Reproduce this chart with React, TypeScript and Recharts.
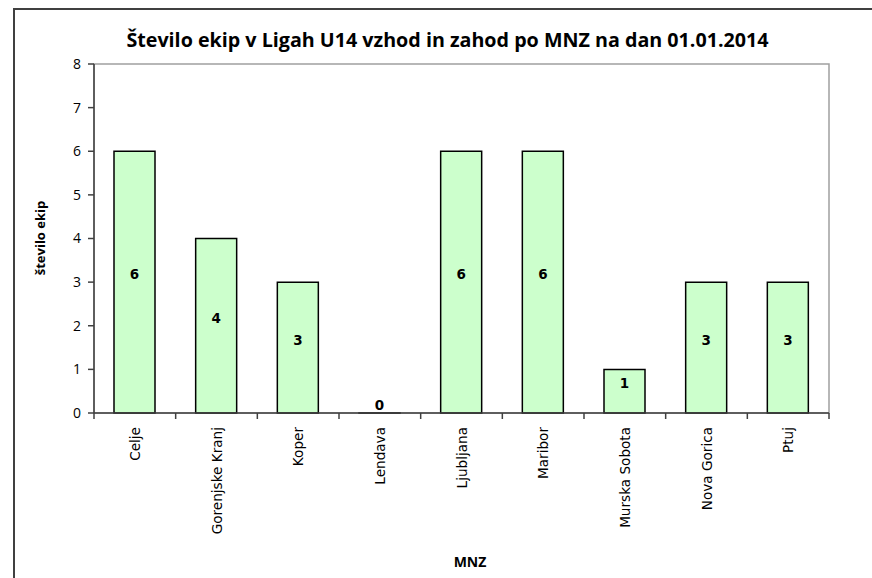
import React from 'react';
import { BarChart, Bar, XAxis, YAxis, ReferenceArea } from 'recharts';

const categories = ['Celje', 'Gorenjske Kranj', 'Koper', 'Lendava', 'Ljubljana', 'Maribor', 'Murska Sobota', 'Nova Gorica', 'Ptuj'];
const teams = [6, 4, 3, 0, 6, 6, 1, 3, 3];
const yTicks = [0, 1, 2, 3, 4, 5, 6, 7, 8];

const title = 'Število ekip v Ligah U14 vzhod in zahod po MNZ na dan 01.01.2014';
const yTitle = 'število ekip';
const xTitle = 'MNZ';

const data = categories.map((name, i) => ({ name, teams: teams[i] }));

const tickFont = '"DejaVu Sans", sans-serif';
const titleFont = '"Open Sans", sans-serif';
const axisColor = '#404040';
const frameColor = '#a0a0a0';

// tick labels plus the tick marks at the category boundaries (Excel style)
const CategoryTick = ({ x, y, payload, index, visibleTicksCount }: any) => {
  const half = payload.offset || 0;
  const last = index === visibleTicksCount - 1;
  return (
    <g>
      <line x1={x - half} x2={x - half} y1={y} y2={y + 6} stroke={axisColor} strokeWidth={1.5} />
      {last && <line x1={x + half} x2={x + half} y1={y} y2={y + 6} stroke={axisColor} strokeWidth={1.5} />}
      <text
        x={x}
        y={y + 14}
        transform={`rotate(-90 ${x} ${y + 14})`}
        textAnchor="end"
        dominantBaseline="central"
        fontFamily={tickFont}
        fontSize={13.6}
        fill="#000"
      >
        {payload.value}
      </text>
    </g>
  );
};

const BarValue = (props: any) => {
  const { x, y, width, height, value } = props;
  return (
    <text
      x={x + width / 2}
      y={y + height / 2 - 8}
      textAnchor="middle"
      dominantBaseline="central"
      fontFamily={tickFont}
      fontWeight="bold"
      fontSize={13.5}
      fill="#000"
    >
      {value}
    </text>
  );
};

export default function App() {
  return (
    <div style={{ position: 'fixed', left: 0, top: 0, width: 872, height: 578, overflow: 'hidden', background: '#fff' }}>
      <div style={{ position: 'absolute', left: 13, top: 8, width: 900, height: 600, border: '2px solid #404040' }} />
      <div
        style={{
          position: 'absolute', left: 0, top: 28, width: 895, textAlign: 'center',
          fontFamily: titleFont, fontWeight: 'bold', fontSize: 19.7, color: '#000', lineHeight: '24px',
        }}
      >
        {title}
      </div>
      <div
        style={{
          position: 'absolute', left: 40, top: 238, transform: 'translate(-50%, -50%) rotate(-90deg)',
          whiteSpace: 'nowrap', fontFamily: titleFont, fontWeight: 'bold', fontSize: 13, color: '#000',
        }}
      >
        {yTitle}
      </div>
      <div
        style={{
          position: 'absolute', left: 470, top: 561, transform: 'translate(-50%, -50%)',
          fontFamily: titleFont, fontWeight: 'bold', fontSize: 14, color: '#000',
        }}
      >
        {xTitle}
      </div>
      <div style={{ position: 'absolute', left: 0, top: 0 }}>
        <BarChart
          width={872}
          height={578}
          data={data}
          margin={{ top: 64, right: 43, left: 30, bottom: 45 }}
        >
          <XAxis
            dataKey="name"
            interval={0}
            height={120}
            tickSize={0}
            tickMargin={0}
            axisLine={{ stroke: axisColor, strokeWidth: 1.5 }}
            tickLine={false}
            tick={<CategoryTick />}
          />
          <YAxis
            type="number"
            domain={[0, 8]}
            ticks={yTicks}
            width={64}
            tickSize={6}
            tickMargin={7}
            axisLine={{ stroke: axisColor, strokeWidth: 1.5 }}
            tickLine={{ stroke: axisColor, strokeWidth: 1.5 }}
            tick={{ fontFamily: titleFont, fontSize: 14, fill: '#000' }}
          />
          <ReferenceArea y1={0} y2={8} fill="none" stroke={frameColor} strokeWidth={1.5} ifOverflow="visible" />
          <Bar
            dataKey="teams"
            barSize={41}
            minPointSize={0.1}
            fill="#ccffcc"
            stroke="#000"
            strokeWidth={1.5}
            isAnimationActive={false}
            label={BarValue}
          />
        </BarChart>
      </div>
    </div>
  );
}
